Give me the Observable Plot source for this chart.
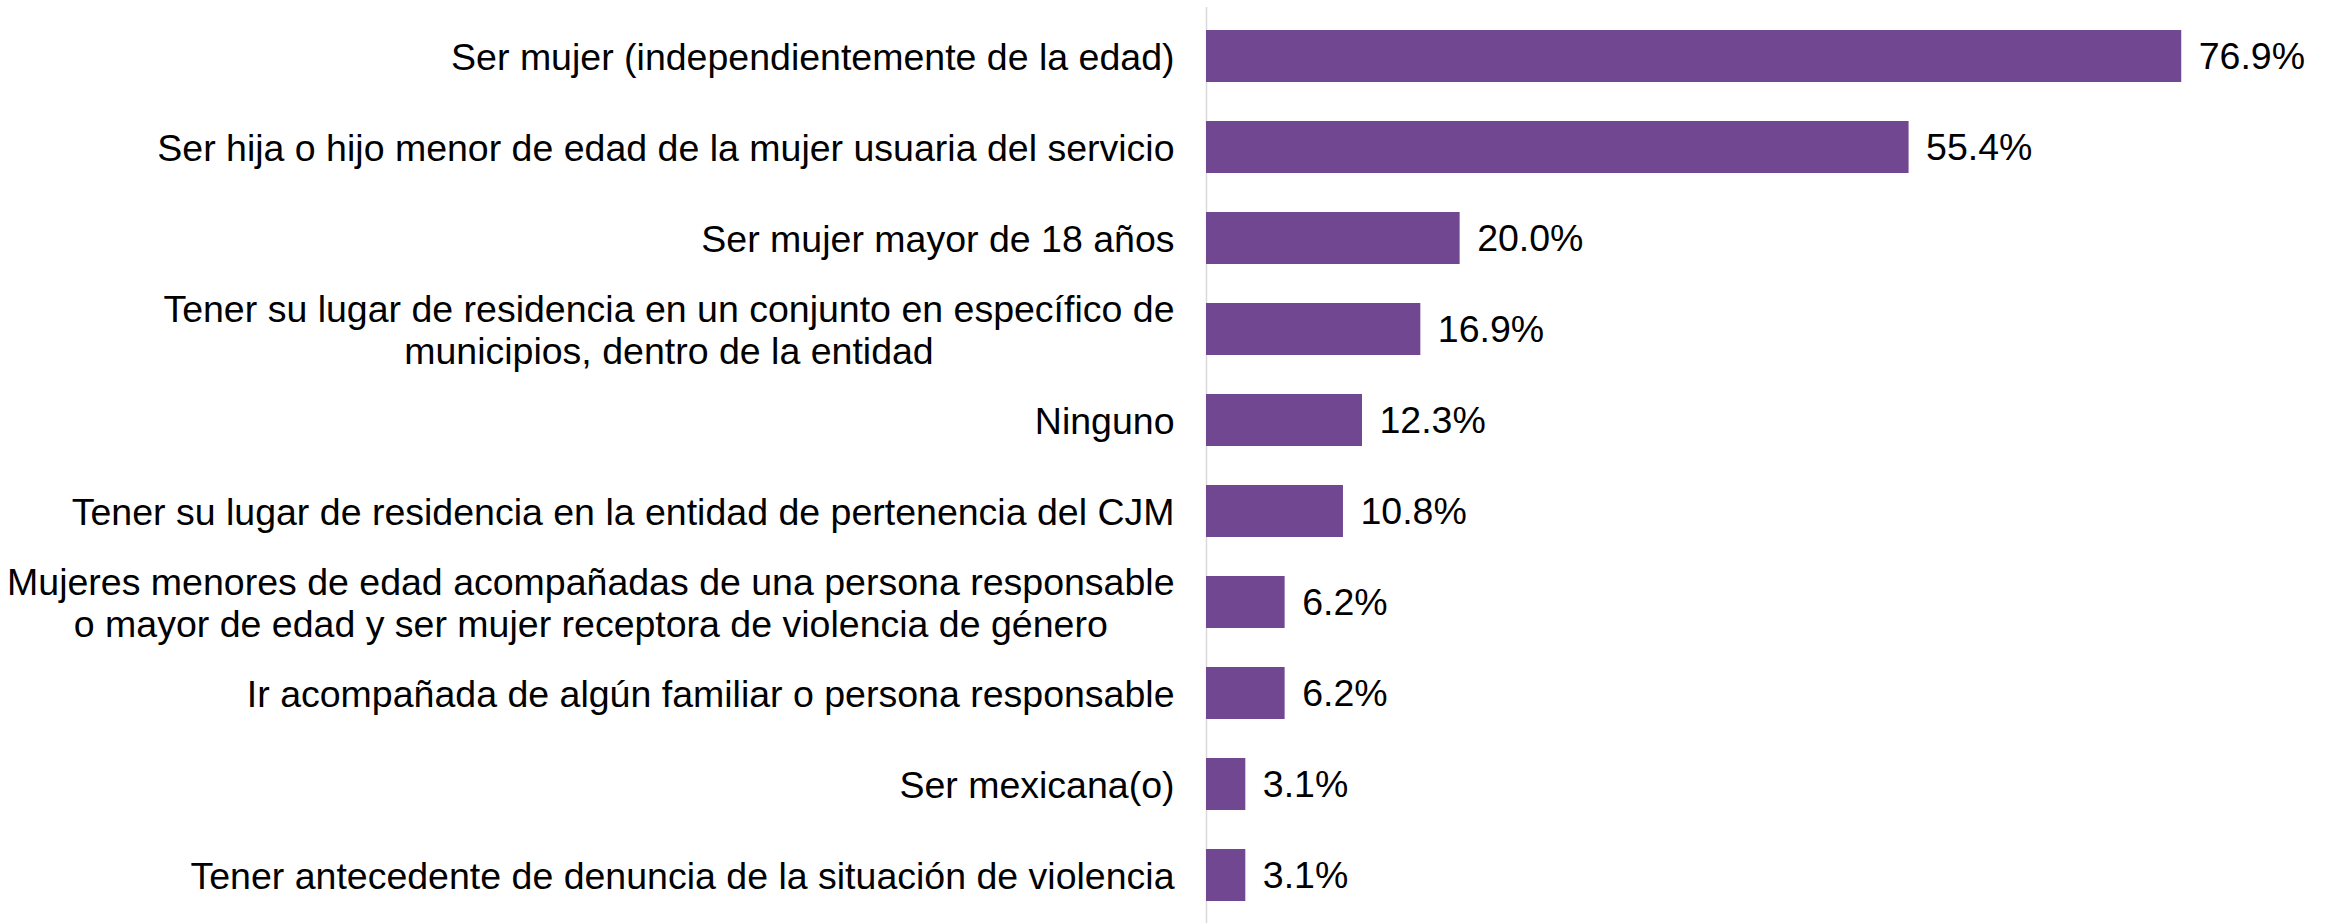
<!DOCTYPE html>
<html>
<head>
<meta charset="utf-8">
<script src="https://cdn.jsdelivr.net/npm/d3@7"></script>
<script src="https://cdn.jsdelivr.net/npm/@observablehq/plot@0.6"></script>
<style>
  html, body { margin: 0; padding: 0; background: #fff; }
  #chart svg { display: block; }
</style>
</head>
<body>
<div id="chart"></div>
<script>
const categories = [
  "Ser mujer (independientemente de la edad)",
  "Ser hija o hijo menor de edad de la mujer usuaria del servicio",
  "Ser mujer mayor de 18 años",
  "Tener su lugar de residencia en un conjunto en específico de\nmunicipios, dentro de la entidad",
  "Ninguno",
  "Tener su lugar de residencia en la entidad de pertenencia del CJM",
  "Mujeres menores de edad acompañadas de una persona responsable\no mayor de edad y ser mujer receptora de violencia de género",
  "Ir acompañada de algún familiar o persona responsable",
  "Ser mexicana(o)",
  "Tener antecedente de denuncia de la situación de violencia"
];
const values = [76.9, 55.4, 20.0, 16.9, 12.3, 10.8, 6.2, 6.2, 3.1, 3.1];

const data = categories.map((c, i) => ({cat: c, value: values[i]}));
const barColor = "#724792";
const font = "'Liberation Sans', Arial, sans-serif";

const chart = Plot.plot({
  width: 2330,
  height: 923,
  marginLeft: 1206,
  marginRight: 8,
  marginTop: 7,
  marginBottom: 0,
  style: {fontFamily: font, color: "#000", background: "#fff"},
  x: {domain: [0, 88], axis: null},
  y: {domain: categories, paddingInner: 0.433, paddingOuter: 0.2165, align: 0.5, label: null},
  marks: [
    Plot.ruleX([0], {stroke: "#d9d9d9", strokeWidth: 1.5}),
    Plot.barX(data, {x: "value", y: "cat", fill: barColor}),
    Plot.text(data, {
      x: "value", y: "cat",
      text: d => d.value.toFixed(1) + "%",
      dx: 17, textAnchor: "start", fontSize: 37.5, fill: "#000"
    }),
    Plot.axisY({tickSize: 0, tickPadding: 32, fontSize: 37.5, lineHeight: 1.12, label: null, fill: "#000"})
  ]
});

document.getElementById("chart").appendChild(chart);

// Center the lines of multi-line category labels within their right-aligned block
d3.select(chart).selectAll("text").each(function() {
  const tspans = this.querySelectorAll("tspan");
  if (tspans.length < 2) return;
  const bb = this.getBBox();
  const right = bb.x + bb.width;
  let W = 0;
  tspans.forEach(t => { W = Math.max(W, t.getComputedTextLength()); });
  const cx = right - W / 2;
  this.setAttribute("text-anchor", "middle");
  tspans.forEach(t => t.setAttribute("x", cx));
});
</script>
</body>
</html>
